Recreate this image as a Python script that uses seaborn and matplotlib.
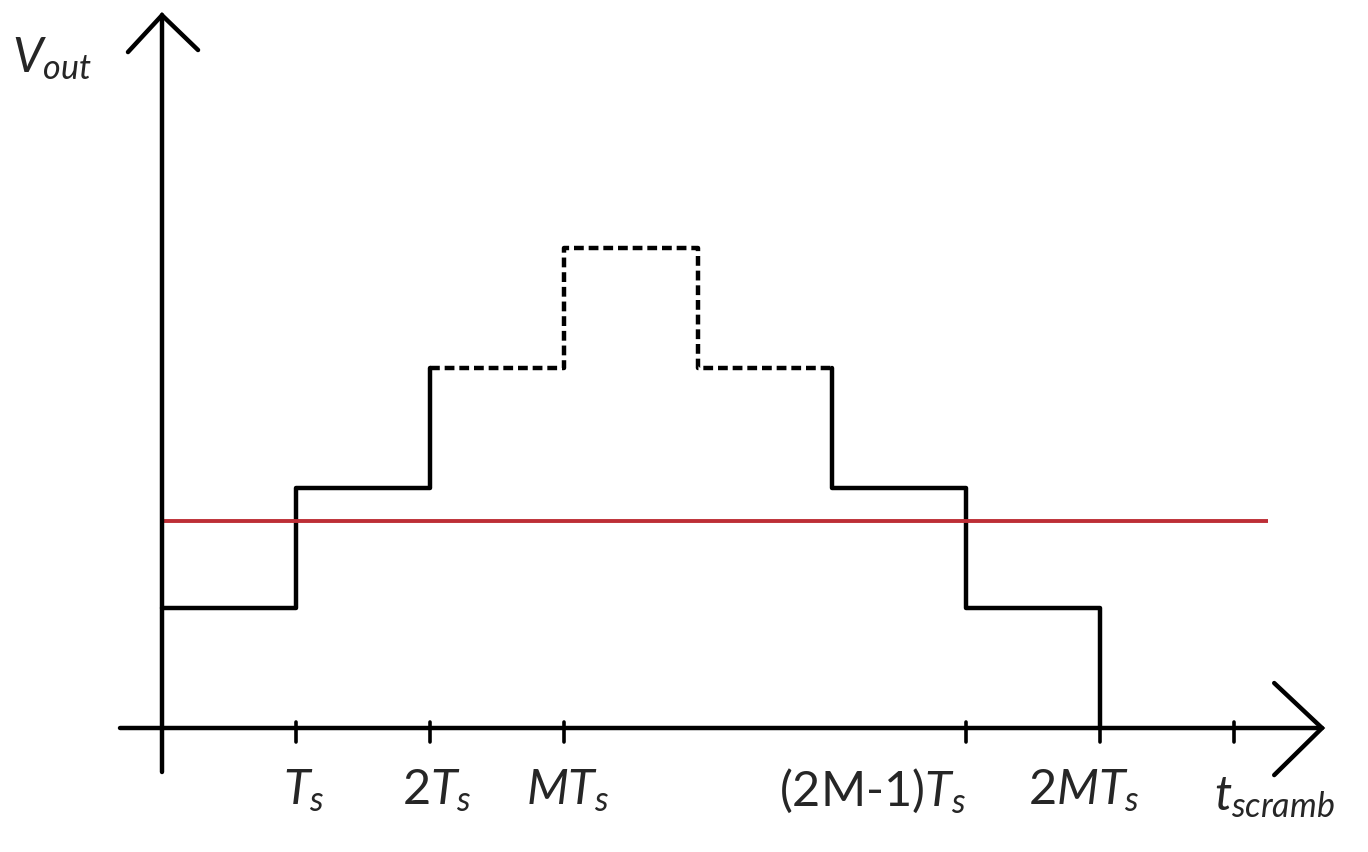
import numpy as np
import pandas as pd
import seaborn as sns
import matplotlib as mpl
import matplotlib.pyplot as plt

mpl.use('Agg')

# V_out staircase: level held from each edge to the next (units of T_s), then back to zero
t_edges = [0, 1, 2, 3, 4, 5, 6, 7]
v_levels = [1, 2, 3, 4, 3, 2, 1, 0]
threshold = 1.725                  # red reference level
threshold_end = 8.25

tick_pos = [1, 2, 3, 6, 7, 8]
tick_labels = ['$T_s$', r'$\mathit{2}T_s$', '$MT_s$', '(2M-1)$T_s$',
               r'$\mathit{2}MT_s$', '']
label_ha = ['center', 'center', 'center', 'right', 'center', 'center']
label_dx = [0.06, 0.05, 0.03, 0.0, -0.12, 0.0]

sns.set_theme(style='white')
plt.rcParams['font.family'] = ['Lato', 'DejaVu Sans']
plt.rcParams['mathtext.fontset'] = 'custom'
plt.rcParams['mathtext.it'] = 'Lato:italic'
plt.rcParams['mathtext.rm'] = 'Lato'

fig = plt.figure(figsize=(13.68, 8.52), dpi=100)
ax = fig.add_axes([0, 0, 1, 1])
ax.set_xlim(-1.209, 9.0)
ax.set_ylim(-1.033, 6.067)
ax.axis('off')

lw = 3.2
# solid rise: 0 .. 2T_s, ending with the jump to level 3
rise = pd.DataFrame({'t': t_edges[0:3], 'v': v_levels[0:3]})
sns.lineplot(data=rise, x='t', y='v', drawstyle='steps-post', color='black',
             lw=lw, estimator=None, sort=False, ax=ax)
# dashed top: 2T_s .. 5T_s
top = pd.DataFrame({'t': t_edges[2:6], 'v': v_levels[2:5] + [v_levels[4]]})
sns.lineplot(data=top, x='t', y='v', drawstyle='steps-post', color='black',
             lw=lw, linestyle=(0, (2.2, 1.1)), estimator=None, sort=False, ax=ax)
# solid fall: 5T_s .. 7T_s, down to zero
fall = pd.DataFrame({'t': [t_edges[5]] + t_edges[5:8],
                     'v': [v_levels[4]] + v_levels[5:8]})
sns.lineplot(data=fall, x='t', y='v', drawstyle='steps-post', color='black',
             lw=lw, estimator=None, sort=False, ax=ax)

# threshold line
ax.plot([0, threshold_end], [threshold, threshold], color='#bd2e36', lw=2.8,
        solid_capstyle='butt')

# axes with open arrow heads
alw = 3.2
ax.plot([-0.313, 8.657], [0, 0], color='black', lw=alw)
ax.plot([0, 0], [-0.367, 5.94], color='black', lw=alw)
ax.plot([8.30, 8.657, 8.30], [0.375, 0, -0.392], color='black', lw=alw,
        solid_joinstyle='miter')
ax.plot([-0.254, 0, 0.269], [5.633, 5.94, 5.65], color='black', lw=alw,
        solid_joinstyle='miter')

for p, lab, ha, dx in zip(tick_pos, tick_labels, label_ha, label_dx):
    ax.plot([p, p], [0.05, -0.12], color='black', lw=2.6)
    if lab:
        ax.text(p + dx, -0.52, lab, ha=ha, va='center', fontsize=35)

ax.text(8.3, -0.58, '$t_{scramb}$', ha='center', va='center', fontsize=35)
ax.text(-0.82, 5.58, '$V_{out}$', ha='center', va='center', fontsize=35)

fig.savefig('out.png', dpi=100)
